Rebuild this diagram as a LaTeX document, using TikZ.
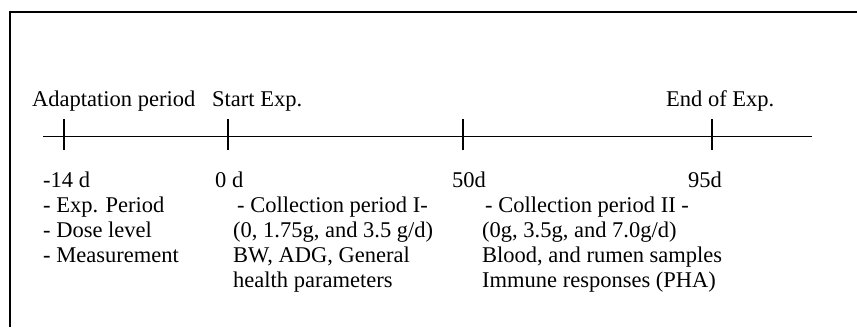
\documentclass[tikz,border=0pt]{standalone}
\usepackage{fontspec}
\setmainfont{Liberation Serif}
\begin{document}
\begin{tikzpicture}[x=1pt,y=-1pt,
  lbl/.style={anchor=base west,inner sep=0pt,font=\fontsize{22.5}{26}\selectfont},
  tickmark/.style={line width=2.6pt},
  axisline/.style={line width=0.9pt},
  frameline/.style={line width=1.6pt}]
\useasboundingbox (0,0) rectangle (857,327);
% frame (only top and left visible)
\coordinate (fbl) at (10,327);
\coordinate (ftl) at (10,12);
\coordinate (ftr) at (857,12);
\draw[frameline] (fbl) -- (ftl) -- (ftr);
% axis
\coordinate (a0) at (43,136);
\coordinate (a1) at (812,136);
\draw[axisline] (a0) -- (a1);
% ticks
\foreach \n/\x in {t1/64,t2/228,t3/463,t4/712}{
  \coordinate (\n top) at (\x,119);
  \coordinate (\n bot) at (\x,150);
  \draw[tickmark] (\n top) -- (\n bot);
}
% labels above
\node[lbl] (adapt) at (32,106) {Adaptation period};
\node[lbl] (start) at (212,106) {Start Exp.};
\node[lbl] (endexp) at (666,106) {End of Exp.};
% day labels
\node[lbl] (d14) at (43,187) {-14 d};
\node[lbl] (d0) at (215,187) {0 d};
\node[lbl] (d50) at (452,187) {50d};
\node[lbl] (d95) at (688,187) {95d};
% column 1
\node[lbl] (c1a) at (43,212) {- Exp. Period};
\node[lbl] (c1b) at (43,237) {- Dose level};
\node[lbl] (c1c) at (43,262) {- Measurement};
% column 2
\node[lbl] (c2a) at (237,212) {- Collection period I-};
\node[lbl] (c2b) at (233,237) {(0, 1.75g, and 3.5 g/d)};
\node[lbl] (c2c) at (233,262) {BW, ADG, General};
\node[lbl] (c2d) at (233,287) {health parameters};
% column 3
\node[lbl] (c3a) at (485,212) {- Collection period II -};
\node[lbl] (c3b) at (482,237) {(0g, 3.5g, and 7.0g/d)};
\node[lbl] (c3c) at (482,262) {Blood, and rumen samples};
\node[lbl] (c3d) at (482,287) {Immune responses (PHA)};
\end{tikzpicture}
\end{document}
